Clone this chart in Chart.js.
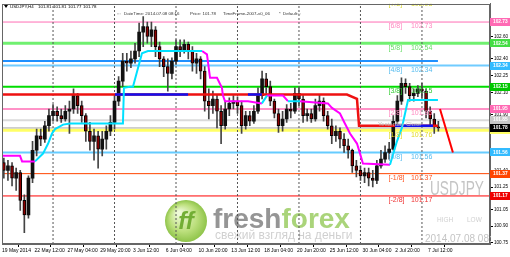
<!DOCTYPE html>
<html><head><meta charset="utf-8">
<script src="https://cdn.jsdelivr.net/npm/chart.js@4"></script>
<style>html,body{margin:0;padding:0;background:#fff;overflow:hidden}</style>
</head><body>
<canvas id="c" width="510" height="257"></canvas>
<script>
// ---------- DATA ----------
// H4 bar index: 0 = 19 May 2014 00:00; each candle below covers 2 H4 bars (8h), first at index 6
const firstBarIndex = 6;
const opens = [101.47,101.40,101.44,101.33,101.38,101.13,101.00,101.33,101.58,101.71,
101.68,101.80,101.89,101.93,101.89,101.86,101.93,101.95,102.07,101.98,
101.89,101.75,101.66,101.71,101.59,101.68,101.75,101.83,102.02,102.20,
102.38,102.36,102.40,102.47,102.64,102.69,102.60,102.66,102.51,102.40,
102.33,102.27,102.38,102.51,102.48,102.53,102.47,102.36,102.40,102.29,
102.02,101.98,102.04,101.93,101.80,101.95,102.00,102.02,101.98,101.80,
101.89,101.84,101.93,102.07,102.22,102.15,102.02,101.91,101.80,101.86,
101.95,101.93,102.09,102.04,101.89,101.91,101.86,101.98,102.02,101.89,
101.80,101.71,101.75,101.68,101.62,101.58,101.44,101.40,101.35,101.38,
101.33,101.31,101.44,101.50,101.56,101.59,101.84,102.02,102.18,102.15,
102.07,102.09,102.13,102.11,101.93,101.86,101.79];
const highs = [101.51,101.49,101.47,101.42,101.40,101.18,101.35,101.66,101.77,101.77,
101.84,101.95,101.99,101.97,101.95,101.98,102.02,102.13,102.09,102.02,
101.91,101.83,101.77,101.75,101.75,101.80,101.89,102.07,102.24,102.45,
102.45,102.47,102.54,102.72,102.78,102.73,102.73,102.69,102.55,102.42,
102.40,102.41,102.57,102.57,102.57,102.55,102.51,102.45,102.42,102.33,
102.13,102.11,102.08,101.98,102.02,102.05,102.07,102.06,102.02,101.93,
101.93,101.98,102.14,102.29,102.27,102.20,102.04,101.95,101.93,101.99,
102.00,102.14,102.14,102.07,101.95,101.95,102.04,102.08,102.05,101.93,
101.86,101.80,101.78,101.73,101.68,101.59,101.49,101.44,101.42,101.42,
101.40,101.49,101.58,101.62,101.65,101.89,102.07,102.23,102.22,102.18,
102.13,102.16,102.18,102.13,101.97,101.91,101.84];
const lows = [101.33,101.31,101.26,101.22,101.04,100.84,100.97,101.29,101.53,101.62,
101.65,101.75,101.84,101.84,101.83,101.84,101.73,101.91,101.91,101.83,
101.66,101.58,101.49,101.42,101.53,101.59,101.71,101.77,101.98,102.15,
102.29,102.32,102.36,102.42,102.51,102.54,102.51,102.42,102.33,102.24,
102.11,102.22,102.35,102.42,102.45,102.40,102.29,102.27,102.22,101.93,
101.86,101.91,101.78,101.64,101.77,101.89,101.95,101.91,101.73,101.77,
101.80,101.82,101.91,102.04,102.09,101.98,101.87,101.74,101.75,101.83,
101.87,101.91,101.98,101.83,101.84,101.83,101.84,101.93,101.84,101.77,
101.64,101.66,101.60,101.56,101.51,101.38,101.34,101.31,101.29,101.26,
101.25,101.28,101.42,101.47,101.50,101.58,101.80,101.99,102.09,102.02,
102.02,102.06,102.05,101.87,101.80,101.73,101.75];
const closes = [101.40,101.44,101.33,101.38,101.13,101.00,101.33,101.58,101.71,101.68,
101.80,101.89,101.93,101.89,101.86,101.93,101.95,102.07,101.98,101.89,
101.75,101.66,101.71,101.59,101.68,101.75,101.83,102.02,102.20,102.38,
102.36,102.40,102.47,102.64,102.69,102.60,102.66,102.51,102.40,102.33,
102.27,102.38,102.51,102.48,102.53,102.47,102.36,102.40,102.29,102.02,
101.98,102.04,101.93,101.80,101.95,102.00,102.02,101.98,101.80,101.89,
101.84,101.93,102.07,102.22,102.15,102.02,101.91,101.80,101.86,101.95,
101.93,102.09,102.04,101.89,101.91,101.86,101.98,102.02,101.89,101.80,
101.71,101.75,101.68,101.62,101.58,101.44,101.40,101.35,101.38,101.33,
101.31,101.44,101.50,101.56,101.59,101.84,102.02,102.18,102.15,102.07,
102.09,102.13,102.11,101.93,101.86,101.79,101.78];

// x axis (H4 bar index) and tick labels
const xMin = 5.1, xMax = 243.2;
const xTickIndex = [5.1, 21, 37, 53, 69, 85, 101, 117, 133, 149, 165, 181, 197, 213];
const xTickLabels = ['19 May 2014','22 May 12:00','27 May 04:00','29 May 20:00','3 Jun 12:00','6 Jun 04:00',
  '10 Jun 20:00','13 Jun 12:00','18 Jun 04:00','20 Jun 20:00','25 Jun 12:00','30 Jun 04:00','2 Jul 20:00','7 Jul 12:00'];
const weekStarts = [30, 60, 90, 120, 150, 180, 210];

// y axis
const yMin = 100.739, yMax = 102.894;
const yTicks = [102.60, 102.40, 102.25, 102.10, 101.90, 101.75, 101.55, 101.40, 101.25, 101.05, 100.90, 100.75];

// Murrey math levels
const murreyNames  = ['[7/8]','[6/8]','[5/8]','[4/8]','[3/8]','[2/8]','[1/8]','[0/8]','[-1/8]','[-2/8]'];
const murreyValues = [102.93, 102.73, 102.54, 102.34, 102.15, 101.95, 101.76, 101.56, 101.37, 101.17];
const murreyColors = ['#e0e040','#ff6eb4','#70f070','#70ccff','#00dd00','#ff6eb4','#ffff66','#66ccff','#ff4500','#ff0000'];
const murreyWidths = [1, 1, 3, 2, 2, 1.5, 3, 2, 1, 1];
const murreyTextColors = ['#d8d830','#ff88c0','#66dd66','#55bbee','#33cc33','#ff88c0','#e0d820','#55bbee','#ff5522','#ee3333'];

// other horizontal levels
const blueLevel = 102.38, blueLevelEnd = 217.8;
const yesterdayLevel = 101.85, bidLevel = 101.78;

// right-axis price markers
const markerPrices = [102.73, 102.54, 102.34, 102.15, 101.95, 101.85, 101.76, 101.78, 101.56, 101.37, 101.17];
const markerColors = ['#ff69b4','#44dd44','#33bbff','#00c800','#ff69b4','#c8c8c8','#ffff66','#000000','#33bbff','#ff4500','#ee0000'];
const markerText   = ['#fff','#fff','#fff','#fff','#fff','#fff','#777','#fff','#fff','#fff','#fff'];

// trend stop line (cyan = up, magenta = down)
const cyanPath = [[21.2,101.48],[25.1,101.55],[27.6,101.64],[29.5,101.73],[31.0,101.77],[34.9,101.81],[38.3,101.82],[64.1,101.82],[64.6,102.14],[67.6,102.15],[69.0,102.15],[73.4,102.45],[76.3,102.47],[102.7,102.47],null,
  [131.9,102.00],[134.4,102.07],null,[144.6,102.02],[150.5,102.02],null,
  [194.4,101.45],[197.8,101.66],[200.2,101.78],[203.2,102.03],[217.8,102.03]];
const magentaPath = [[5.1,101.53],[13.9,101.53],[14.9,101.48],[21.2,101.48],null,
  [102.7,102.47],[105.1,102.44],[106.6,102.23],[110.0,102.23],[112.4,102.14],[112.9,102.07],[113.9,102.02],[125.1,102.02],[131.9,102.00],null,
  [134.4,102.07],[142.2,102.07],[144.6,102.02],null,
  [150.5,102.02],[164.1,102.00],[166.1,101.96],[170.0,101.91],[172.4,101.82],[174.9,101.73],[178.3,101.64],[179.8,101.55],[181.2,101.46],[194.4,101.45]];
// stepped red / blue line
const redPath = [[5.1,102.08],[173.4,102.08],[178.3,102.04],[179.3,101.80],[217.8,101.80]];
const bluePath = [[60.2,102.08],[95.9,102.08],null,[125.1,102.08],[131.9,102.08],null,[196.8,101.80],[215.4,101.80]];
// projection line
const projection = [[218.8,101.95],[225.1,101.56]];

// header texts
const headerSymbol = 'USDJPY,H4';
const headerOHLC = ['101.81','101.81','101.77','101.78'];
const headerInfo = [':::','DateTime: 2014.07.08 08:16','Price: 101.78','TimeFrame-2007-v0_06','*','Default',':::'];

// ---------- helpers ----------
function toPts(path){
  const out=[]; let lastX=xMin;
  path.forEach(p=>{ if(p===null){ out.push({x:lastX,y:null}); } else { out.push({x:p[0],y:p[1]}); lastX=p[0]; } });
  return out;
}
const lineDs = (data, color, width, order, extra) => Object.assign({
  type:'line', data, borderColor:color, borderWidth:width, pointRadius:0, fill:false, tension:0, spanGaps:false, order
}, extra||{});

const datasets = [];
murreyValues.forEach((v,i)=>{
  datasets.push(lineDs([{x:xMin,y:v},{x:xMax,y:v}], murreyColors[i], murreyWidths[i], 20));
});
datasets.push(lineDs([{x:xMin,y:blueLevel},{x:blueLevelEnd,y:blueLevel}], '#1e90ff', 2, 19));
datasets.push(lineDs([{x:xMin,y:yesterdayLevel},{x:xMax,y:yesterdayLevel}], '#dadada', 2, 19));
datasets.push(lineDs([{x:xMin,y:bidLevel},{x:xMax,y:bidLevel}], '#a8a8a8', 1, 19));
const wk=[]; weekStarts.forEach(w=>{ wk.push({x:w,y:yMin},{x:w,y:yMax},{x:w,y:null}); });
datasets.push(lineDs(wk, '#555', 1, 18, {borderDash:[2,2]}));
const cx = k => firstBarIndex + 2*k;
datasets.push({ type:'bar', data: lows.map((l,k)=>({x:cx(k), y:[l, highs[k]]})), backgroundColor:'#444',
  barThickness:1, grouped:false, order:6 });
datasets.push({ type:'bar', data: opens.map((o,k)=>({x:cx(k), y:[o, closes[k]]})),
  backgroundColor: c => closes[c.dataIndex] >= opens[c.dataIndex] ? '#111' : '#8b0000',
  borderColor:'#000', borderWidth: c => closes[c.dataIndex] >= opens[c.dataIndex] ? 0 : 1,
  borderSkipped:false, barThickness:3, minBarLength:1, grouped:false, order:5 });
datasets.push(lineDs(toPts(redPath), '#ee1111', 2.5, 4));
datasets.push(lineDs(toPts(bluePath), '#1010ee', 2.5, 3));
datasets.push(lineDs(toPts(magentaPath), '#ff00ff', 2, 2));
datasets.push(lineDs(toPts(cyanPath), '#00e0ff', 2, 1));
datasets.push(lineDs(toPts(projection), '#ff0000', 2, 1));

const F = 'Liberation Sans, Arial, sans-serif';

const overlay = {
  id:'overlay',
  beforeDatasetsDraw(chart){
    const c = chart.ctx;
    c.save();
    const gx=186, gy=221, r=21;
    const g = c.createRadialGradient(gx-7, gy-8, 2, gx, gy, r);
    g.addColorStop(0,'#eef9d8'); g.addColorStop(0.6,'#bde07e'); g.addColorStop(1,'#8fc44a');
    c.fillStyle = g; c.beginPath(); c.arc(gx,gy,r,0,Math.PI*2); c.fill();
    c.fillStyle = '#72ae34'; c.font = 'italic bold 24px '+F; c.textAlign='center'; c.textBaseline='middle';
    c.fillText('ff', gx, gy+1);
    c.textAlign='left'; c.textBaseline='alphabetic';
    c.font = 'bold 28px '+F;
    c.fillStyle = '#959595'; c.fillText('fresh', 213, 228);
    const w = c.measureText('fresh').width;
    c.fillStyle = '#aad47a'; c.fillText('forex', 213+w, 228);
    c.font = '12px '+F; c.fillStyle = '#d0d0d0';
    c.fillText('свежий взгляд на деньги', 215, 239);
    c.save(); c.translate(430, 195); c.scale(0.65, 1);
    c.font = '21px '+F; c.fillStyle = '#c4c4c4'; c.fillText('USDJPY', 0, 0); c.restore();
    c.font = '6.5px '+F; c.fillStyle = '#d0d0d0';
    c.fillText('HIGH', 437, 222); c.fillText('LOW', 467, 222);
    c.beginPath(); c.rect(0,0,491,257); c.clip();
    c.font = '10px '+F; c.fillStyle = '#c4c4c4'; c.fillText('2014.07.08 08:16', 425, 242);
    c.restore();
  },
  afterDatasetsDraw(chart){
    const c = chart.ctx, a = chart.chartArea, xs = chart.scales.x, ys = chart.scales.y;
    c.save();
    c.beginPath(); c.rect(a.left, a.top, a.right-a.left, a.bottom-a.top); c.clip();
    c.font = '7px '+F; c.textBaseline='middle'; c.textAlign='left';
    murreyValues.forEach((v,i)=>{
      const y = ys.getPixelForValue(v) + 4.5;
      c.fillStyle = murreyTextColors[i];
      c.fillText(murreyNames[i], xs.getPixelForValue(193.7), y);
      c.fillText(v.toFixed(2), xs.getPixelForValue(204.6), y);
    });
    c.font = '6px '+F; c.fillStyle = '#bdbdbd';
    c.fillText('Yesterday Close', xs.getPixelForValue(188.5), ys.getPixelForValue(101.81));
    c.restore();
  },
  afterDraw(chart){
    const c = chart.ctx, a = chart.chartArea, ys = chart.scales.y;
    c.save();
    c.strokeStyle = '#666'; c.lineWidth = 1;
    c.strokeRect(Math.round(a.left)+0.5, Math.round(a.top)+0.5, Math.round(a.right-a.left)-1, Math.round(a.bottom-a.top)-1);
    c.fillStyle = '#000'; c.textBaseline='middle';
    c.beginPath(); c.moveTo(4,5); c.lineTo(8,5); c.lineTo(6,8); c.closePath(); c.fill();
    c.font = '4.4px '+F;
    c.fillText(headerSymbol, 10, 6.5);
    headerOHLC.forEach((t,i)=>c.fillText(t, 38 + 15*i, 6.5));
    c.fillStyle = '#333';
    const infoX = [117,124,190,223,279,283,297];
    headerInfo.forEach((t,i)=>c.fillText(t, infoX[i], 13.5));
    c.font = 'bold 4.8px '+F;
    markerPrices.forEach((p,i)=>{
      const y = ys.getPixelForValue(p);
      c.fillStyle = markerColors[i]; c.fillRect(490, Math.round(y)-4, 20, 8);
      c.fillStyle = markerText[i]; c.fillText(p.toFixed(2), 493, y);
    });
    c.restore();
  }
};

new Chart(document.getElementById('c'), {
  type:'bar',
  data:{ datasets },
  options:{
    responsive:false, animation:false, devicePixelRatio:1,
    layout:{ padding:{ left:2, top:2, right:0, bottom:0 } },
    plugins:{ legend:{display:false}, tooltip:{enabled:false} },
    scales:{
      x:{ type:'linear', min:xMin, max:xMax, offset:false,
        afterBuildTicks: s => { s.ticks = xTickIndex.map(v=>({value:v})); },
        afterFit: s => { s.height = 13; },
        ticks:{ autoSkip:false, maxRotation:0, minRotation:0, align:'start', padding:1, color:'#000',
          font:{ size:5, family:F }, callback:(v,i)=>xTickLabels[i] },
        grid:{ drawOnChartArea:false, drawTicks:true, tickLength:3, color:'#000' },
        border:{ display:true, color:'#666' } },
      y:{ type:'linear', position:'right', min:yMin, max:yMax,
        afterBuildTicks: s => { s.ticks = yTicks.map(v=>({value:v})); },
        afterFit: s => { s.width = 20; },
        ticks:{ autoSkip:false, padding:1, color:'#000', font:{ size:4.6, family:F }, callback:v=>v.toFixed(2) },
        grid:{ drawOnChartArea:false, drawTicks:true, tickLength:3, color:'#000' },
        border:{ display:true, color:'#666' } }
    }
  },
  plugins:[overlay]
});
</script>
</body></html>
